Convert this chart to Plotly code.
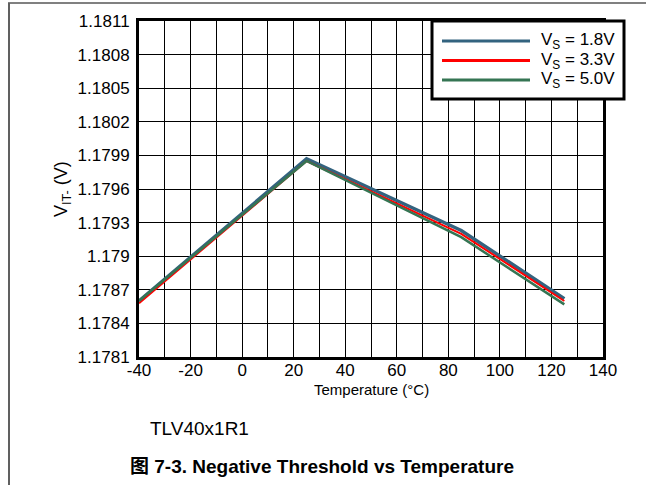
import plotly.graph_objects as go

# ---- data ----
temperature = [-40, 25, 85, 125]
vs_1p8 = [1.17860, 1.17987, 1.17923, 1.17862]
vs_3p3 = [1.17858, 1.17985, 1.17920, 1.17860]
vs_5p0 = [1.17860, 1.17985, 1.17917, 1.17857]
series_names = ["V<sub>S</sub> = 1.8V", "V<sub>S</sub> = 3.3V", "V<sub>S</sub> = 5.0V"]
series_colors = ["#33637F", "#FF0000", "#357553"]
y_ticks = [1.1781, 1.1784, 1.1787, 1.179, 1.1793, 1.1796, 1.1799, 1.1802, 1.1805, 1.1808, 1.1811]
y_ticktext = ["1.1781", "1.1784", "1.1787", "1.179", "1.1793", "1.1796", "1.1799", "1.1802", "1.1805", "1.1808", "1.1811"]
x_ticks = [-40, -20, 0, 20, 40, 60, 80, 100, 120, 140]
x_ticktext = ["-40", "-20", "0", "20", "40", "60", "80", "100", "120", "140"]

W, H = 646, 485
L, R, T, B = 139, 43, 21, 128
PW, PH = W - L - R, H - T - B

def px(x):
    return (x - L) / PW

def py(y):
    return (H - B - y) / PH

FONT = "Liberation Sans, Arial, sans-serif"

fig = go.Figure()
series = [vs_1p8, vs_3p3, vs_5p0]
widths = [3.5, 2, 2.5]
order = [0, 1, 2]
for i in order:
    fig.add_trace(go.Scatter(
        x=temperature, y=series[i], mode="lines", name=series_names[i],
        line=dict(color=series_colors[i], width=widths[i]), showlegend=False,
    ))

fig.update_layout(
    width=W, height=H,
    margin=dict(l=L, r=R, t=T, b=B, pad=0),
    paper_bgcolor="white", plot_bgcolor="white",
    font=dict(family=FONT, size=17, color="black"),
    showlegend=False,
)
fig.update_xaxes(
    range=[-40, 140], tickvals=x_ticks, ticktext=x_ticktext, showgrid=True, gridcolor="black", gridwidth=1,
    minor=dict(dtick=10, showgrid=True, gridcolor="black", gridwidth=1),
    showline=True, linecolor="black", linewidth=3, mirror=True,
    ticks="", ticklabelstandoff=-4, zeroline=False,
    tickfont=dict(size=17),
)
fig.update_yaxes(
    range=[1.1781, 1.1811], tickvals=y_ticks, ticktext=y_ticktext,
    showgrid=True, gridcolor="black", gridwidth=1,
    showline=True, linecolor="black", linewidth=3, mirror=True,
    ticks="", ticklabelstandoff=3, zeroline=False,
    tickfont=dict(size=17),
)

shapes = []
annotations = []
# outer frame (top and left)
shapes.append(dict(type="line", xref="paper", yref="paper", x0=px(8), x1=px(646), y0=py(3), y1=py(3),
                   line=dict(color="#808080", width=2)))
shapes.append(dict(type="line", xref="paper", yref="paper", x0=px(9), x1=px(9), y0=py(3), y1=py(485),
                   line=dict(color="#606060", width=2)))
# legend box
shapes.append(dict(type="rect", xref="paper", yref="paper", x0=px(432), x1=px(624), y0=py(21), y1=py(99),
                   fillcolor="white", line=dict(color="black", width=3), layer="above"))
legend_rows = [41, 60.5, 80]
for i in range(3):
    yy = py(legend_rows[i])
    shapes.append(dict(type="line", xref="paper", yref="paper", x0=px(442), x1=px(530), y0=yy, y1=yy,
                       line=dict(color=series_colors[i], width=3), layer="above"))
    annotations.append(dict(xref="paper", yref="paper", x=px(539), y=yy, xanchor="left", yanchor="middle",
                            text=series_names[i], showarrow=False, font=dict(size=17, family=FONT)))

# axis titles
annotations.append(dict(xref="paper", yref="paper", x=px(62), y=0.5, xanchor="center", yanchor="middle",
                        text="V<sub>IT-</sub> (V)", textangle=-90, showarrow=False, font=dict(size=18, family=FONT)))
annotations.append(dict(xref="paper", yref="paper", x=px(371), y=py(389), xanchor="center", yanchor="middle",
                        text="Temperature (°C)", showarrow=False, font=dict(size=15, family=FONT)))
annotations.append(dict(xref="paper", yref="paper", x=px(148), y=py(428), xanchor="left", yanchor="middle",
                        text="TLV40x1R1", showarrow=False, font=dict(size=19, family=FONT)))
annotations.append(dict(xref="paper", yref="paper", x=px(128), y=py(466), xanchor="left", yanchor="middle",
                        text="<b>图 7-3. Negative Threshold vs Temperature</b>", showarrow=False,
                        font=dict(size=19, family="Liberation Sans, Arial, Noto Sans CJK SC, sans-serif")))

fig.update_layout(shapes=shapes, annotations=annotations)
fig.write_html("out.html")
